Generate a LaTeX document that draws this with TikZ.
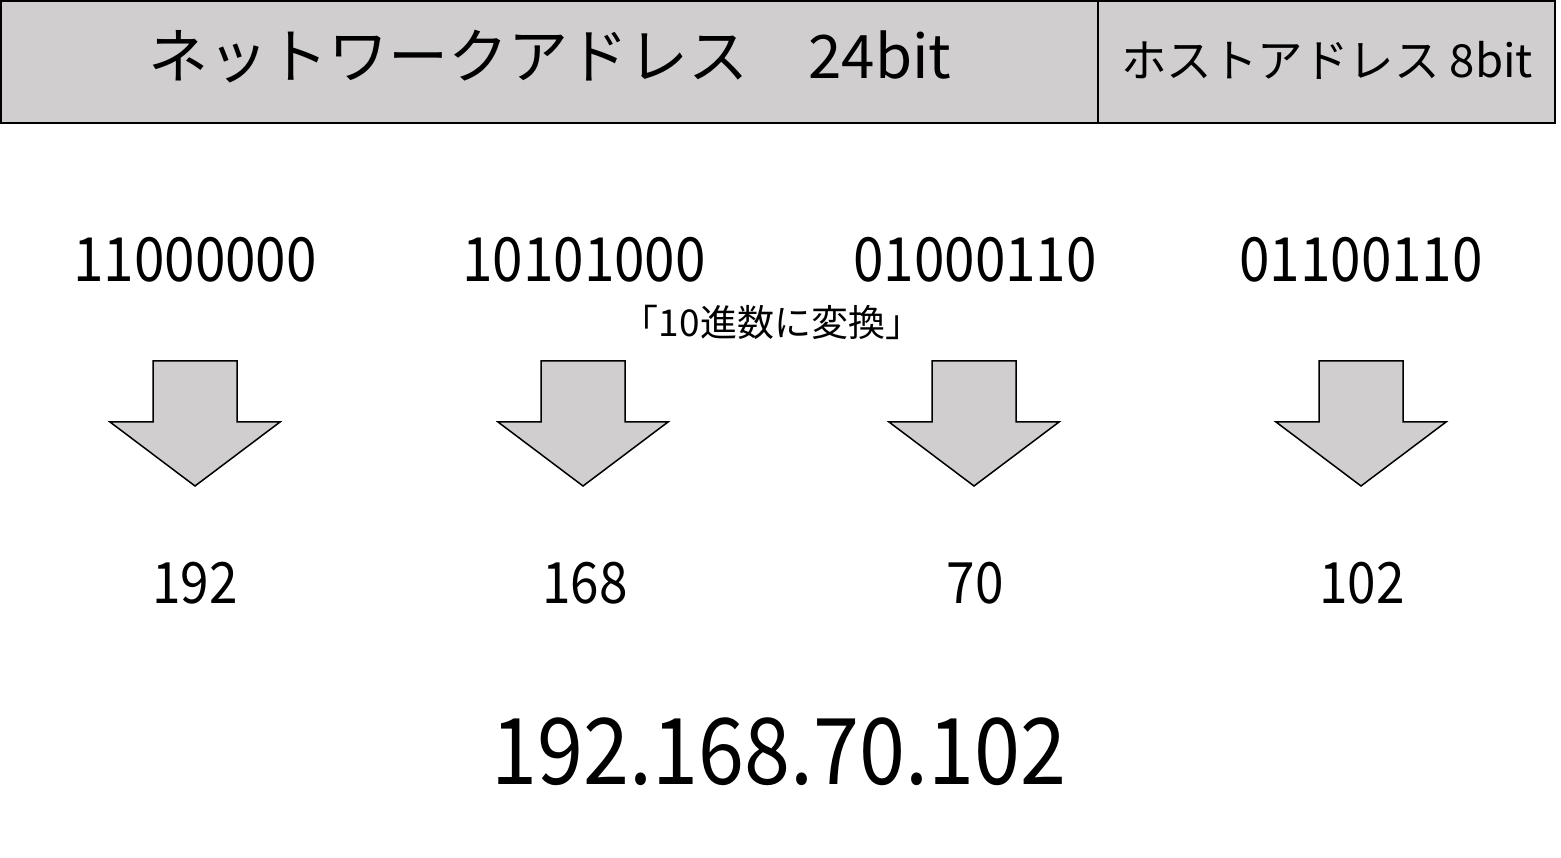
\documentclass[tikz,border=0pt]{standalone}
\usepackage{fontspec}
\setmainfont{Noto Sans CJK JP}
\definecolor{boxgray}{HTML}{D0CECE}
\begin{document}
\begin{tikzpicture}[x=1pt,y=-1pt,
  txt/.style={inner sep=0pt, anchor=center},
  bin/.style={txt, font=\fontsize{61}{70}\selectfont, xscale=0.9},
  dec/.style={txt, font=\fontsize{57}{66}\selectfont, xscale=0.9},
  arr/.style={draw=black, fill=boxgray, line width=1.5pt, line join=miter}]
\useasboundingbox (0,0) rectangle (1561,858);
% top bar
\draw[fill=boxgray, line width=2pt] (1,1) rectangle (1555,123);
\draw[line width=1.5pt] (1098,1) -- (1098,123);
\node[txt, font=\fontsize{60}{70}\selectfont] (net) at (550,57) {ネットワークアドレス　24bit};
\node[txt, font=\fontsize{45.5}{54}\selectfont] (host) at (1327,60) {ホストアドレス 8bit};
% binary
\node[bin] (b1) at (195,260) {11000000};
\node[bin] (b2) at (584,260) {10101000};
\node[bin] (b3) at (975,260) {01000110};
\node[bin] (b4) at (1361,260) {01100110};
\node[txt, font=\fontsize{37}{44}\selectfont] (conv) at (772,322) {「10進数に変換」};
% arrows
\foreach \c in {195,583,974,1361}{
  \draw[arr] (\c-42,361) -- (\c+42,361) -- (\c+42,422) -- (\c+85,422) -- (\c,486) -- (\c-85,422) -- (\c-42,422) -- cycle;
}
% decimal
\node[dec] (d1) at (195,583) {192};
\node[dec] (d2) at (585,583) {168};
\node[dec] (d3) at (975,583) {70};
\node[dec] (d4) at (1362,583) {102};
\node[txt, font=\fontsize{92}{100}\selectfont, xscale=0.9] (ip) at (779,752) {192.168.70.102};
\end{tikzpicture}
\end{document}
